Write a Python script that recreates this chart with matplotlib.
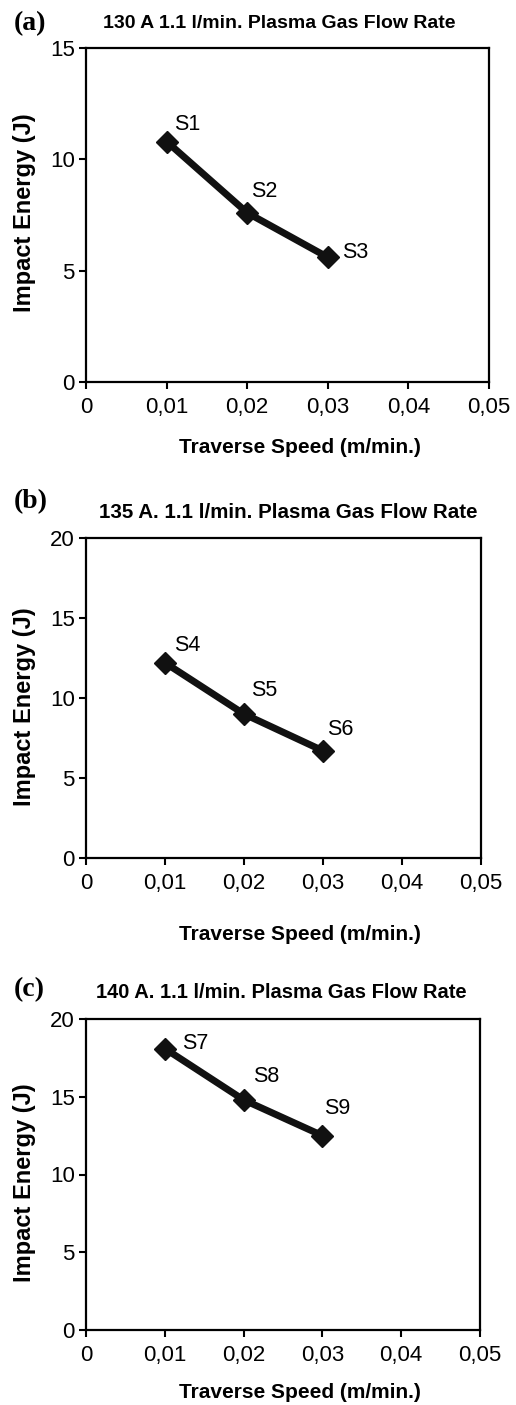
import matplotlib
matplotlib.use("Agg")
import matplotlib.pyplot as plt

# traverse speed (m/min.) for every sample set
speed = [0.01, 0.02, 0.03]

# impact energy (J) per current setting
energy_130 = [10.8, 7.6, 5.6]
energy_135 = [12.2, 9.0, 6.7]
energy_140 = [18.1, 14.8, 12.5]

labels_130 = ["S1", "S2", "S3"]
labels_135 = ["S4", "S5", "S6"]
labels_140 = ["S7", "S8", "S9"]

titles = ["130 A 1.1 l/min. Plasma Gas Flow Rate",
          "135 A. 1.1 l/min. Plasma Gas Flow Rate",
          "140 A. 1.1 l/min. Plasma Gas Flow Rate"]
letters = ["(a)", "(b)", "(c)"]
ymax = [15, 20, 20]
yticks = [[0, 5, 10, 15], [0, 5, 10, 15, 20], [0, 5, 10, 15, 20]]
xticks = [0, 0.01, 0.02, 0.03, 0.04, 0.05]
xticklabels = ["0", "0,01", "0,02", "0,03", "0,04", "0,05"]

sans = ["Liberation Sans", "DejaVu Sans"]
W, H = 516, 1405

fig = plt.figure(figsize=(W / 100, H / 100), dpi=100)

# axes boxes in pixels: left, top, right, bottom
boxes = [(86, 48, 489, 382), (86, 538, 481, 858), (86, 1019, 480, 1330)]
title_y = [24, 513, 993]
title_x = [279, 288, 281]
title_size = [14, 14.8, 14.5]
letter_y = [24, 502, 990]
xlabel_y = [447, 934, 1392]
ylabel_y = [213, 707, 1183]

# where the sample names sit relative to their points (pixels)
offsets = [[(7, 17), (4, 21), (14, 5)],
           [(9, 17), (7, 23), (4, 21)],
           [(17, 5), (9, 23), (2, 27)]]

series = [energy_130, energy_135, energy_140]
names = [labels_130, labels_135, labels_140]


def fx(px):
    return px / W


def fy(py):
    return 1 - py / H


for i in range(3):
    l, t, r, b = boxes[i]
    ax = fig.add_axes([fx(l), fy(b), fx(r) - fx(l), fy(t) - fy(b)])
    ax.plot(speed, series[i], color="#111111", lw=5, marker="D", ms=11,
            solid_joinstyle="round")
    for x, y, s, off in zip(speed, series[i], names[i], offsets[i]):
        ax.annotate(s, (x, y), xytext=off, textcoords="offset pixels",
                    family=sans, fontsize=15.5, ha="left", va="center")
    ax.set_xlim(0, 0.05)
    ax.set_ylim(0, ymax[i])
    ax.set_xticks(xticks)
    ax.set_xticklabels(xticklabels, family=sans, fontsize=16)
    ax.set_yticks(yticks[i])
    ax.set_yticklabels([str(v) for v in yticks[i]], family=sans, fontsize=16)
    ax.tick_params(direction="out", length=5, width=1.5, pad=3)
    ax.tick_params(axis="x", pad=6)
    for sp in ax.spines.values():
        sp.set_linewidth(1.6)

    fig.text(fx(title_x[i]), fy(title_y[i]), titles[i], family=sans,
             fontsize=title_size[i], fontweight="bold", ha="center", va="center")
    fig.text(fx(14), fy(letter_y[i]), letters[i], family=["Liberation Serif", "DejaVu Serif"],
             fontsize=20, fontweight="bold", ha="left", va="center")
    fig.text(fx(300), fy(xlabel_y[i]), "Traverse Speed (m/min.)", family=sans,
             fontsize=15, fontweight="bold", ha="center", va="center")
    fig.text(fx(25), fy(ylabel_y[i]), "Impact Energy (J)", family=sans,
             fontsize=17, fontweight="bold", ha="center", va="center",
             rotation=90)

fig.savefig("out.png", dpi=100)
